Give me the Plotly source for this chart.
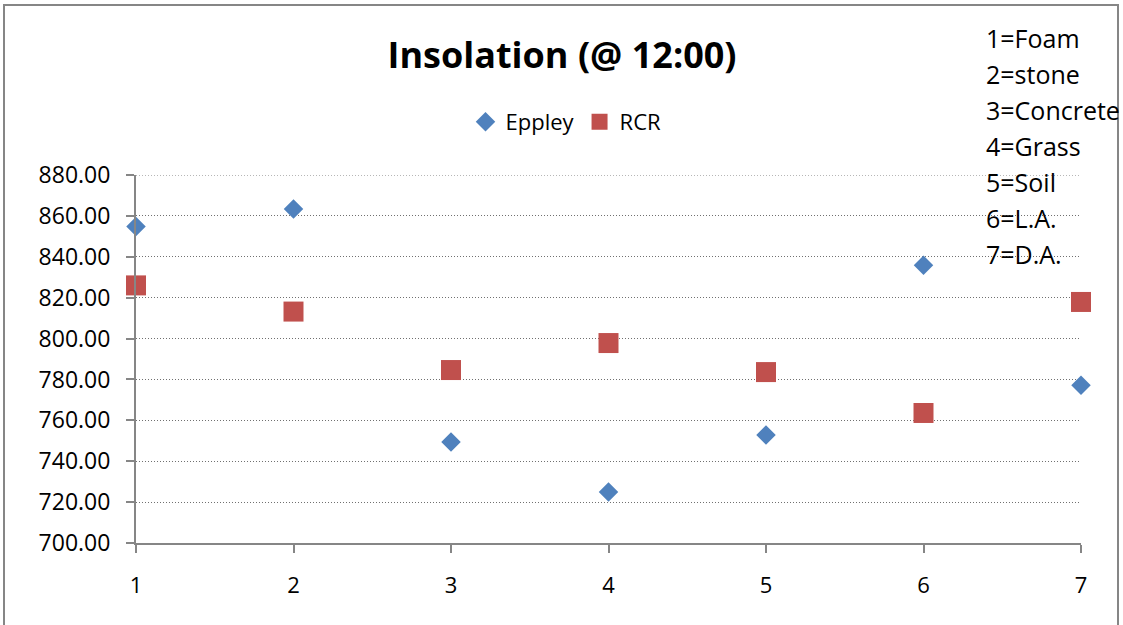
import plotly.graph_objects as go

# Surface number 1..7 and readings at 12:00
surfaces = [1, 2, 3, 4, 5, 6, 7]
eppley = [854.8, 863.4, 749.4, 725.0, 752.8, 835.8, 777.2]
rcr = [826.0, 813.2, 784.6, 797.8, 783.6, 763.6, 817.9]
surface_key = ["1=Foam", "2=stone", "3=Concrete", "4=Grass", "5=Soil", "6=L.A.", "7=D.A."]
y_ticks = [700, 720, 740, 760, 780, 800, 820, 840, 860, 880]

W, H = 1123, 625
L, R, T, B = 136, 42, 175, 82
FONT = "Open Sans"
GRAY = "#868686"
GRID_GRAY = "#707070"
GRID_DASH = "1px,2px"

fig = go.Figure()
fig.add_trace(go.Scatter(
    x=surfaces, y=eppley, mode="markers", name="Eppley",
    marker=dict(symbol="diamond", size=15, color="#4F81BD"),
    cliponaxis=False,
))
fig.add_trace(go.Scatter(
    x=surfaces, y=rcr, mode="markers", name="RCR",
    marker=dict(symbol="square", size=20, color="#C0504D"),
    cliponaxis=False,
))

# Legend key for the surface numbers, one line each
pw, ph = W - L - R, H - T - B
for i, txt in enumerate(surface_key):
    ypx = 38 + 36 * i
    fig.add_annotation(
        text=txt, xref="paper", yref="paper",
        x=(984 - L) / pw, y=(H - B - ypx) / ph,
        xanchor="left", yanchor="middle", showarrow=False,
        font=dict(family=FONT, size=25, color="#000000"),
    )

# Top gridline sits on the plot edge, so draw it explicitly
fig.add_shape(
    type="line", xref="paper", yref="y",
    x0=0, x1=1, y0=y_ticks[-1], y1=y_ticks[-1],
    line=dict(color=GRID_GRAY, width=1, dash=GRID_DASH), layer="below",
)

# Outer chart border
fig.add_shape(
    type="rect", xref="paper", yref="paper",
    x0=(4 - L) / pw, x1=(1118 - L) / pw,
    y0=(H - B - 640) / ph, y1=(H - B - 5) / ph,
    line=dict(color=GRAY, width=2), layer="below",
)

fig.update_layout(
    width=W, height=H,
    margin=dict(l=L, r=R, t=T, b=B, pad=0),
    paper_bgcolor="white", plot_bgcolor="white",
    font=dict(family=FONT, size=22, color="#000000"),
    title=dict(
        text="<b>Insolation (@ 12:00)</b>",
        x=562 / W, xanchor="center", y=1 - 55 / H, yanchor="middle",
        font=dict(family=FONT, size=36, color="#000000"),
    ),
    legend=dict(
        orientation="h", x=(566 - L) / pw, xanchor="center",
        y=(H - B - 122) / ph, yanchor="middle",
        font=dict(family=FONT, size=22), itemwidth=30,
        bgcolor="rgba(0,0,0,0)",
    ),
    xaxis=dict(
        range=[1, 7], tickmode="array", tickvals=surfaces,
        ticktext=[str(s) for s in surfaces],
        showgrid=False, zeroline=False,
        showline=True, linecolor=GRAY, linewidth=2,
        ticks="outside", ticklen=8, tickcolor=GRAY, tickwidth=2,
        ticklabelstandoff=14,
    ),
    yaxis=dict(
        range=[700, 880], tickmode="array", tickvals=y_ticks,
        tickformat=".2f",
        showgrid=True, gridcolor=GRID_GRAY, griddash=GRID_DASH, gridwidth=1,
        zeroline=False,
        showline=True, linecolor=GRAY, linewidth=2,
        ticks="outside", ticklen=8, tickcolor=GRAY, tickwidth=2,
        ticklabelstandoff=11,
        tickfont=dict(family=FONT, size=23),
    ),
)

fig.write_html("out.html")
